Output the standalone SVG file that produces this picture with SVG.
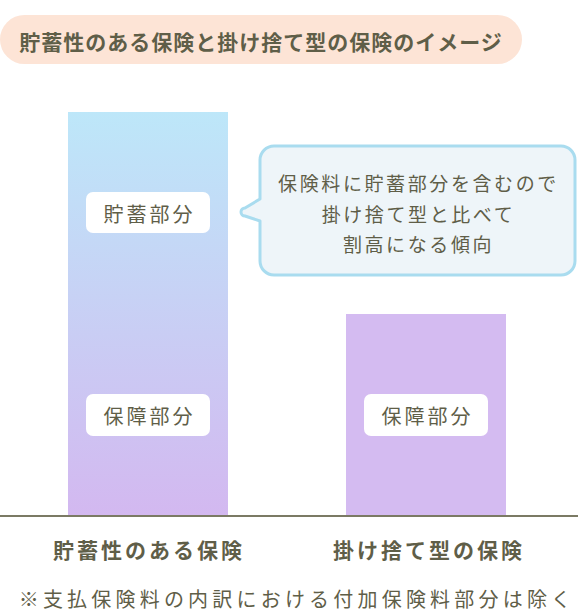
<svg xmlns="http://www.w3.org/2000/svg" width="578" height="612" viewBox="0 0 578 612">
<defs>
<linearGradient id="gL" x1="0" y1="0" x2="0" y2="1">
<stop offset="0" stop-color="#bde7f9"/>
<stop offset="1" stop-color="#d3b8f0"/>
</linearGradient>
<style>
text{font-family:"Noto Sans CJK JP","Noto Sans CJK SC",sans-serif;fill:#5f5e48;text-anchor:middle;dominant-baseline:central}
.t{font-size:21px;font-weight:bold;letter-spacing:3px}
.h{font-size:21px;font-weight:bold;letter-spacing:1px}
.b{font-size:20px;letter-spacing:3px}
.c{font-size:19px;letter-spacing:2.6px}
.f{font-size:20px;letter-spacing:4.2px}
.lb{fill:#fff}
</style>
</defs>
<g id="title">
<rect x="0" y="15" width="522" height="49" rx="24.5" fill="#fde4d6"/>
<text class="h" x="261" y="41">貯蓄性のある保険と掛け捨て型の保険のイメージ</text>
</g>
<g id="bar-savings">
<rect x="68" y="112" width="160" height="404" fill="url(#gL)"/>
<rect class="lb" x="86" y="192" width="124" height="41" rx="7"/>
<text class="b" x="149.5" y="213">貯蓄部分</text>
<rect class="lb" x="86" y="394" width="124" height="42" rx="7"/>
<text class="b" x="149.5" y="415">保障部分</text>
</g>
<g id="bar-term">
<rect x="346" y="314" width="160" height="202" fill="#d4bbf1"/>
<rect class="lb" x="364" y="394" width="124" height="42" rx="7"/>
<text class="b" x="427.5" y="415">保障部分</text>
</g>
<g id="callout">
<path d="M274,146 H561 A14,14 0 0 1 575,160 V261 A14,14 0 0 1 561,275 H274 A14,14 0 0 1 260,261 V221 L245,216 A4,4 0 0 1 245,208 L260,199 V160 A14,14 0 0 1 274,146 Z" fill="#eef5f9" stroke="#a9dcef" stroke-width="3" stroke-linejoin="round"/>
<text class="c" x="418.5" y="182">保険料に貯蓄部分を含むので</text>
<text class="c" x="418.5" y="213">掛け捨て型と比べて</text>
<text class="c" x="418.5" y="243">割高になる傾向</text>
</g>
<g id="connectors">
<line x1="0" y1="516" x2="578" y2="516" stroke="#7b7a64" stroke-width="2"/>
</g>
<g id="labels">
<text class="t" x="149" y="549">貯蓄性のある保険</text>
<text class="t" x="429" y="549">掛け捨て型の保険</text>
<text class="f" x="297" y="598">※支払保険料の内訳における付加保険料部分は除く</text>
</g>
</svg>
